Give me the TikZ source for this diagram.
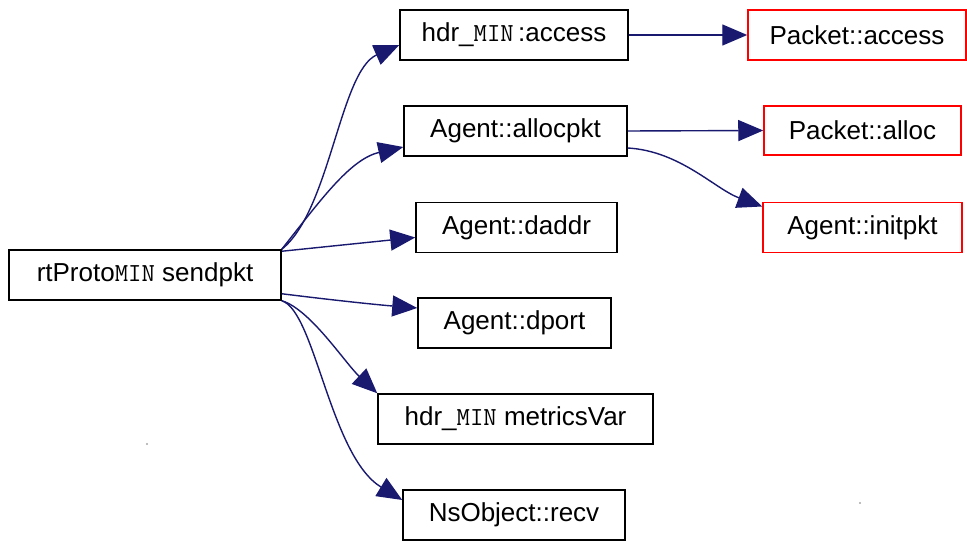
\documentclass[tikz,border=0pt]{standalone}
\usepackage{fontspec}
\setmainfont{Liberation Sans}
\usetikzlibrary{arrows.meta}
\definecolor{edgeblue}{RGB}{25,25,112}
\definecolor{extred}{RGB}{255,0,0}
\newcommand{\MINtag}{{\ttfamily\fontsize{26}{30}\selectfont MIN}}

\begin{document}
\begin{tikzpicture}[x=1pt,y=1pt,
  fn/.style={draw=black, line width=1.5pt, minimum height=50pt, inner sep=0pt,
             font=\fontsize{26}{30}\selectfont, anchor=center},
  ext/.style={fn, draw=extred},
  call/.style={draw=edgeblue, line width=1.4pt,
               -{Triangle[length=25pt,width=21pt]}}]
\useasboundingbox (0,0) rectangle (967,541);

% caller
\node[fn, minimum width=272pt] (rt) at (145,266) {rtProto\MINtag\ sendpkt};

% direct callees
\node[fn, minimum width=228pt] (hacc)    at (514,506)   {hdr\_\MINtag\,:access};
\node[fn, minimum width=223pt] (alloc)   at (515.5,410) {Agent::allocpkt};
\node[fn, minimum width=201pt] (daddr)   at (516.5,313.5) {Agent::daddr};
\node[fn, minimum width=193pt] (dport)   at (514.5,218) {Agent::dport};
\node[fn, minimum width=275pt] (metrics) at (515.5,122) {hdr\_\MINtag\ metricsVar};
\node[fn, minimum width=222pt] (recv)    at (514,26)    {NsObject::recv};

% second level
\node[ext, minimum width=218pt] (pacc)   at (857,506)   {Packet::access};
\node[ext, minimum width=197pt, minimum height=49pt] (palloc) at (862.5,410.5) {Packet::alloc};
\node[ext, minimum width=199pt] (init)   at (862.5,313.5) {Agent::initpkt};

% calls
\draw[call] (rt.north east) .. controls (330,330) and (340,470) .. ([yshift=-10pt]hacc.west);
\draw[call] (rt.north east) .. controls (320,340) and (350,382) .. ([yshift=-16pt]alloc.west);
\draw[call] ([yshift=-2pt]rt.north east) -- ([yshift=-10pt]daddr.west);
\draw[call] ([yshift=7pt]rt.south east) .. controls (340,240) and (380,236) .. ([yshift=15pt]dport.west);
\draw[call] (rt.south east) .. controls (310,232) and (345,178) .. (metrics.north west);
\draw[call] (rt.south east) .. controls (315,230) and (330,85) .. ([yshift=15pt]recv.west);
\draw[call] (hacc.east) -- (pacc.west);
\draw[call] (alloc.east) -- (palloc.west);
\draw[call] ([yshift=-17pt]alloc.east) .. controls (680,390) and (715,352) .. ([yshift=21pt]init.west);

% specks
\fill[gray!70] (147,97) circle (1.2pt);
\fill[gray!70] (860,38) circle (1.2pt);
\end{tikzpicture}
\end{document}
